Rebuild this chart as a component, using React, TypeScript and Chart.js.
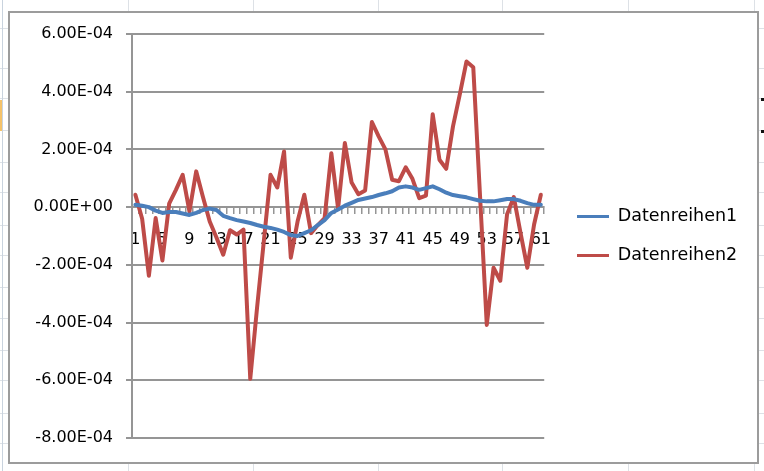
import React, { useEffect, useRef } from 'react';
import { Chart, registerables } from 'chart.js';

Chart.register(...registerables);

// Categories 1..61
const categories: string[] = [
  '1', '2', '3', '4', '5', '6', '7', '8', '9', '10',
  '11', '12', '13', '14', '15', '16', '17', '18', '19', '20',
  '21', '22', '23', '24', '25', '26', '27', '28', '29', '30',
  '31', '32', '33', '34', '35', '36', '37', '38', '39', '40',
  '41', '42', '43', '44', '45', '46', '47', '48', '49', '50',
  '51', '52', '53', '54', '55', '56', '57', '58', '59', '60',
  '61',
];

// Category labels that are printed on the axis
const shownXLabels: string[] = ['1', '5', '9', '13', '17', '21', '25', '29', '33', '37', '41', '45', '49', '53', '57', '61'];

const seriesNames: string[] = ['Datenreihen1', 'Datenreihen2'];

const datenreihen1: number[] = [
  0.08e-4, 0.05e-4, 0.0e-4, -0.12e-4, -0.2e-4, -0.17e-4, -0.17e-4, -0.22e-4, -0.27e-4, -0.2e-4,
  -0.1e-4, -0.05e-4, -0.1e-4, -0.3e-4, -0.38e-4, -0.45e-4, -0.5e-4, -0.55e-4, -0.62e-4, -0.68e-4,
  -0.72e-4, -0.78e-4, -0.86e-4, -0.97e-4, -1.0e-4, -0.9e-4, -0.8e-4, -0.62e-4, -0.45e-4, -0.2e-4,
  -0.08e-4, 0.05e-4, 0.15e-4, 0.25e-4, 0.3e-4, 0.35e-4, 0.42e-4, 0.48e-4, 0.55e-4, 0.68e-4,
  0.72e-4, 0.68e-4, 0.6e-4, 0.66e-4, 0.72e-4, 0.62e-4, 0.5e-4, 0.42e-4, 0.38e-4, 0.34e-4,
  0.28e-4, 0.22e-4, 0.2e-4, 0.2e-4, 0.24e-4, 0.28e-4, 0.28e-4, 0.22e-4, 0.14e-4, 0.08e-4,
  0.08e-4,
];

const datenreihen2: number[] = [
  0.43e-4, -0.4e-4, -2.38e-4, -0.38e-4, -1.85e-4, 0.12e-4, 0.6e-4, 1.12e-4, -0.15e-4, 1.24e-4,
  0.35e-4, -0.5e-4, -1.05e-4, -1.65e-4, -0.8e-4, -0.95e-4, -0.78e-4, -5.95e-4, -3.5e-4, -1.2e-4,
  1.12e-4, 0.68e-4, 1.93e-4, -1.75e-4, -0.5e-4, 0.43e-4, -0.9e-4, -0.62e-4, -0.38e-4, 1.87e-4,
  -0.05e-4, 2.22e-4, 0.85e-4, 0.45e-4, 0.58e-4, 2.95e-4, 2.45e-4, 2.0e-4, 0.95e-4, 0.9e-4,
  1.38e-4, 0.98e-4, 0.31e-4, 0.4e-4, 3.22e-4, 1.64e-4, 1.33e-4, 2.8e-4, 3.9e-4, 5.05e-4,
  4.85e-4, 0.4e-4, -4.08e-4, -2.1e-4, -2.55e-4, -0.25e-4, 0.35e-4, -0.9e-4, -2.1e-4, -0.6e-4,
  0.43e-4,
];

const yMin = -8e-4;
const yMax = 6e-4;
const yStep = 2e-4;

const FONT = 'DejaVu Sans';
const FONT_SIZE = 16;
const LEGEND_FONT_SIZE = 17.5;
const GRID = '#959595';
const BLUE = '#4A7EBB';
const RED = '#BE4B48';

const LEGEND_PAD = 21.5;
const LEGEND_SAMPLE = 32;
const LEGEND_LEFT = 555.5; // legend box left, sample line starts at +LEGEND_PAD
const PLOT_RIGHT = 544;
const CANVAS_W = 764;
const CANVAS_H = 471;

function sci(v: number): string {
  if (Math.abs(v) < 1e-12) return '0.00E+00';
  const [m, e] = v.toExponential(2).split('e');
  const ex = parseInt(e, 10);
  const sign = ex < 0 ? '-' : '+';
  return m + 'E' + sign + String(Math.abs(ex)).padStart(2, '0');
}

const legendShift = {
  id: 'legendShift',
  afterLayout(chart: any) {
    const lg = chart.legend;
    if (!lg) return;
    const w = lg.width;
    lg.left = LEGEND_LEFT;
    lg.right = LEGEND_LEFT + w;
  },
};

const sheetVLines = [128, 253, 378, 502, 628, 754];
const sheetHLines = [28, 68, 98, 130, 162, 192, 225, 255, 287, 318, 350, 380, 413, 443];

export default function App() {
  const ref = useRef<HTMLCanvasElement>(null);

  useEffect(() => {
    if (!ref.current) return;
    const defaultLabels = (Chart as any).defaults.plugins.legend.labels.generateLabels;
    const chart: any = new Chart(ref.current, {
      type: 'line',
      data: {
        labels: categories,
        datasets: [
          {
            label: seriesNames[0],
            data: datenreihen1,
            borderColor: BLUE,
            backgroundColor: BLUE,
            borderWidth: 4,
            pointRadius: 0,
            tension: 0,
            borderJoinStyle: 'round',
            borderCapStyle: 'round',
          },
          {
            label: seriesNames[1],
            data: datenreihen2,
            borderColor: RED,
            backgroundColor: RED,
            borderWidth: 4,
            pointRadius: 0,
            tension: 0,
            borderJoinStyle: 'round',
            borderCapStyle: 'round',
          },
        ],
      },
      options: {
        animation: false,
        responsive: false,
        devicePixelRatio: 1,
        events: [],
        layout: { padding: { left: 0, top: 34, right: 20, bottom: 33 } },
        scales: {
          x: {
            type: 'category',
            position: { y: 0 } as any,
            offset: true,
            grid: {
              drawOnChartArea: false,
              drawTicks: true,
              tickLength: 6,
              offset: true,
              color: GRID,
              lineWidth: 1.5,
            },
            border: { display: true, color: GRID, width: 2 },
            ticks: {
              autoSkip: false,
              maxRotation: 0,
              minRotation: 0,
              padding: 17,
              color: '#000',
              font: { family: FONT, size: FONT_SIZE },
              callback: (_v: any, i: number) => (shownXLabels.includes(categories[i]) ? categories[i] : ''),
            },
          },
          y: {
            min: yMin,
            max: yMax,
            afterFit: (s: any) => {
              s.width = 132;
            },
            grid: { color: GRID, lineWidth: 2, tickLength: 6, drawTicks: true },
            border: { display: true, color: GRID, width: 2 },
            ticks: {
              stepSize: yStep,
              padding: 13,
              color: '#000',
              font: { family: FONT, size: FONT_SIZE },
              callback: (v: any) => sci(Number(v)),
            },
          },
        },
        plugins: {
          legend: {
            position: 'right',
            labels: {
              usePointStyle: true,
              pointStyle: 'line',
              pointStyleWidth: LEGEND_SAMPLE,
              padding: LEGEND_PAD,
              textAlign: 'left',
              color: '#000',
              font: { family: FONT, size: LEGEND_FONT_SIZE },
              generateLabels: (ch: any) =>
                defaultLabels(ch).map((l: any) => ({ ...l, lineWidth: 3 })),
            },
          },
          tooltip: { enabled: false },
        },
      },
      plugins: [legendShift],
    } as any);

    // pin the plot area's right edge
    for (let k = 0; k < 3; k++) {
      const dx = chart.chartArea.right - PLOT_RIGHT;
      if (Math.abs(dx) < 0.25) break;
      const pad = chart.options.layout.padding;
      chart.options.layout.padding = { ...pad, right: Math.max(0, pad.right + dx) };
      chart.update();
    }

    return () => chart.destroy();
  }, []);

  return (
    <div style={{ position: 'fixed', left: 0, top: 0, width: CANVAS_W, height: CANVAS_H, overflow: 'hidden', background: '#fff' }}>
      {sheetVLines.map((x) => (
        <div key={'v' + x} style={{ position: 'absolute', left: x, top: 0, width: 1, height: CANVAS_H, background: '#dde1e6' }} />
      ))}
      {sheetHLines.map((y) => (
        <div key={'h' + y} style={{ position: 'absolute', left: 0, top: y, width: CANVAS_W, height: 1, background: '#dde1e6' }} />
      ))}
      <div style={{ position: 'absolute', left: 2, top: 0, width: 1, height: CANVAS_H, background: '#c9d3de' }} />
      <div style={{ position: 'absolute', left: 0, top: 100, width: 2, height: 31, background: '#f4c26a' }} />
      <div style={{ position: 'absolute', left: 761, top: 98, width: 3, height: 3, background: '#111' }} />
      <div style={{ position: 'absolute', left: 761, top: 130, width: 3, height: 3, background: '#111' }} />
      <div
        style={{
          position: 'absolute',
          left: 8,
          top: 11,
          width: 751,
          height: 453,
          boxSizing: 'border-box',
          border: '2px solid #9c9c9c',
          background: '#fff',
        }}
      />
      <canvas ref={ref} width={CANVAS_W} height={CANVAS_H} style={{ position: 'absolute', left: 0, top: 0 }} />
    </div>
  );
}
